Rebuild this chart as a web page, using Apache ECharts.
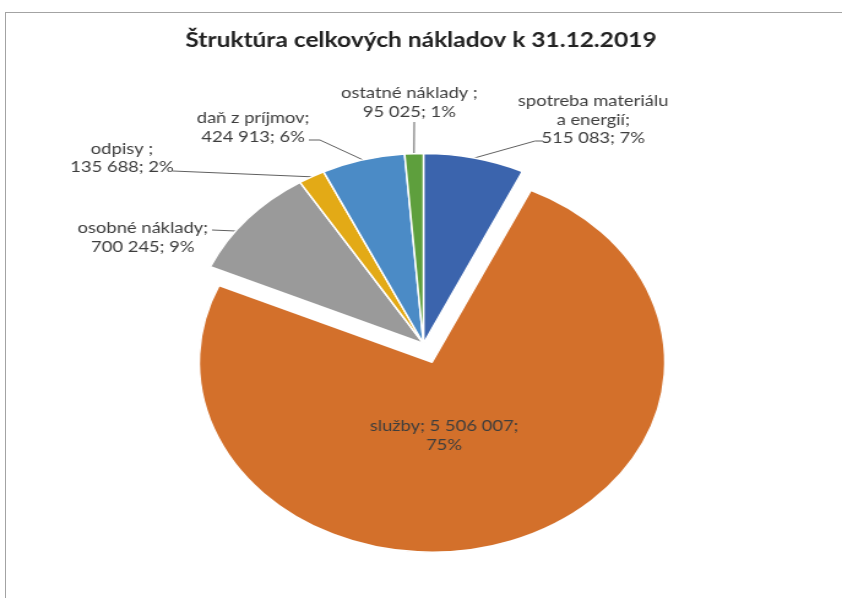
<!DOCTYPE html>
<html>
<head>
<meta charset="utf-8">
<script src="https://cdn.jsdelivr.net/npm/echarts@6.0.0/dist/echarts.min.js"></script>
<style>
html,body{margin:0;padding:0;background:#fff;overflow:hidden}
#wrap{position:relative;width:842px;height:598px;overflow:hidden;background:#fff}
#frame{position:absolute;left:5px;top:12px;width:850px;height:600px;border-top:1px solid #a3a3a3;border-left:1px solid #a3a3a3}
#chart{position:absolute;left:0;top:0;width:687px;height:598px;transform:scaleX(1.2256);transform-origin:0 0}
</style>
</head>
<body>
<div id="wrap"><div id="frame"></div><div id="chart"></div></div>
<script>
// ---- data ----
const titleText = 'Štruktúra celkových nákladov k 31.12.2019';
const categories = ['spotreba materiálu a energií', 'služby', 'osobné náklady', 'odpisy ', 'daň z príjmov', 'ostatné náklady '];
const values = [515083, 5506007, 700245, 135688, 424913, 95025];
const exploded = [false, true, false, false, false, false];

// ---- styles / layout ----
const colors = ['#3b64ad', '#d3702b', '#9a9a9a', '#e3aa16', '#4b8bc6', '#5e9f3d'];
const pieCenter = [345.5, 343.5];
const pieRadius = 190;
// label text wrapping: [break name at char index (-1 none), separator before value, separator before percent]
const wrap = [[18, '\n', ' '], [-1, ' ', '\n'], [-1, '\n', ' '], [-1, '\n', ' '], [-1, '\n', ' '], [-1, '\n', ' ']];
// label placement (chart units, before horizontal stretch) and label-line bend/end points
const labelPlace = [
  {x: 484, y: 120, line: [[436.5, 141], [443, 141]]},
  {x: 357.5, y: 436, va: 'bottom', line: null},
  {x: 116.5, y: 237.5, arcY: 231, line: [[173, 230], [173, 230]]},
  {x: 99.5, y: 158, line: [[141, 171], [141, 171]]},
  {x: 206.5, y: 127.5, line: [[261, 140], [252, 140]]},
  {x: 334, y: 102.5, line: [[338, 122], [338, 122]]}
];

function fmtNum(v) { return String(v).replace(/\B(?=(\d{3})+(?!\d))/g, ' '); }

const chart = echarts.init(document.getElementById('chart'), null, {renderer: 'canvas'});
const data = categories.map((c, i) => {
  const d = {name: c, value: values[i], itemStyle: {color: colors[i]}, select: {itemStyle: {color: colors[i], borderColor: '#fff', borderWidth: 1.5}}};
  if (exploded[i]) {
    d.selected = true;
    d.label = {position: 'inside', padding: [0, 49, 0, 0]};
    d.labelLine = {show: false};
  }
  return d;
});

chart.setOption({
  animation: false,
  backgroundColor: 'transparent',
  title: {
    text: titleText,
    left: 'center',
    top: 31,
    padding: [0, 0, 0, 9],
    textStyle: {fontFamily: 'Lato', fontWeight: 'bold', fontSize: 20, color: '#222'}
  },
  series: [{
    type: 'pie',
    center: pieCenter,
    radius: pieRadius,
    startAngle: 90,
    clockwise: true,
    selectedMode: 'multiple',
    selectedOffset: 20,
    avoidLabelOverlap: false,
    silent: true,
    emphasis: {disabled: true},
    itemStyle: {borderColor: '#fff', borderWidth: 1.5},
    label: {
      show: true,
      fontFamily: 'Lato',
      fontSize: 15,
      lineHeight: 18.5,
      color: '#3d3d3d',
      align: 'center',
      formatter: p => {
        const w = wrap[p.dataIndex];
        let nm = p.name;
        if (w[0] >= 0) nm = nm.slice(0, w[0]) + '\n' + nm.slice(w[0] + 1);
        return nm + ';' + w[1] + fmtNum(p.value) + ';' + w[2] + Math.round(p.percent) + '%';
      }
    },
    labelLine: {show: true, length: 10, length2: 10, smooth: false, lineStyle: {color: '#606060', width: 1}},
    labelLayout: params => {
      const L = labelPlace[params.dataIndex];
      const out = {x: L.x, y: L.y, align: 'center', verticalAlign: L.va || 'middle'};
      if (L.line && params.labelLinePoints) {
        let start = params.labelLinePoints[0];
        if (L.arcY != null) {
          const dy = L.arcY - pieCenter[1];
          start = [pieCenter[0] - Math.sqrt(pieRadius * pieRadius - dy * dy), L.arcY];
        }
        out.labelLinePoints = [start, L.line[0], L.line[1]];
      }
      return out;
    },
    data: data
  }]
});
</script>
</body>
</html>
